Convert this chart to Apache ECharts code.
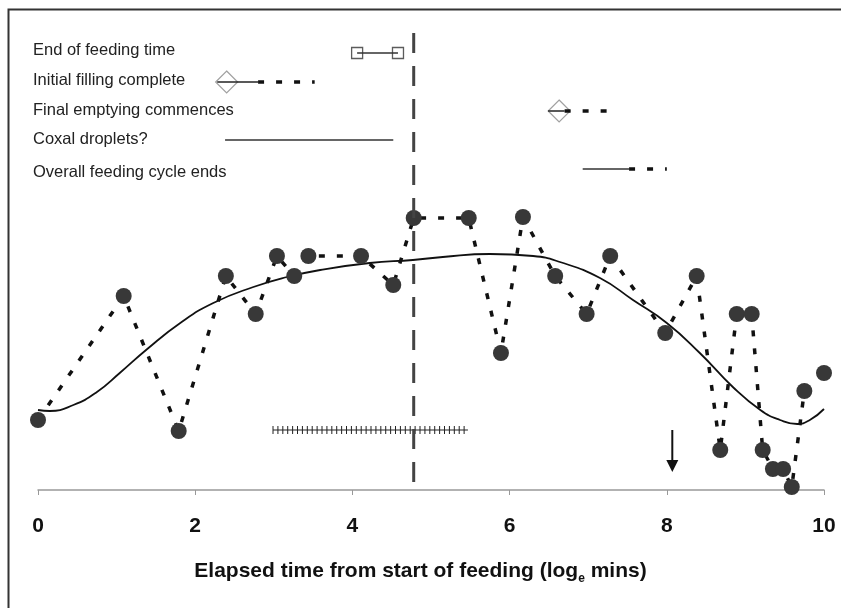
<!DOCTYPE html>
<html>
<head>
<meta charset="utf-8">
<script src="https://cdn.jsdelivr.net/npm/echarts@6/dist/echarts.min.js"></script>
<style>
html,body{margin:0;padding:0;background:#fff;}
#c{width:841px;height:608px;}
</style>
</head>
<body>
<div id="c"></div>
<script>
// ---- data ----
const obsX = [0.00, 1.09, 1.79, 2.39, 2.77, 3.04, 3.26, 3.44, 4.11, 4.52, 4.78, 5.48, 5.89, 6.17, 6.58, 6.98, 7.28, 7.98, 8.38, 8.68, 8.89, 9.08, 9.22, 9.35, 9.48, 9.59, 9.75, 10.00];
const obsY = [7.0, 19.4, 5.9, 21.4, 17.6, 23.4, 21.4, 23.4, 23.4, 20.5, 27.2, 27.2, 13.7, 27.3, 21.4, 17.6, 23.4, 15.7, 21.4, 4.0, 17.6, 17.6, 4.0, 2.1, 2.1, 0.3, 9.9, 11.7];

const trendX = [0.00, 0.15, 0.45, 0.75, 1.04, 1.39, 1.81, 2.23, 2.74, 3.17, 3.59, 4.22, 4.77, 5.15, 5.75, 6.30, 6.64, 7.15, 7.57, 8.00, 8.42, 8.84, 9.19, 9.44, 9.66, 9.82, 10.00];
const trendY = [8.0, 7.9, 8.5, 9.8, 11.7, 14.1, 16.7, 18.7, 20.3, 21.3, 22.0, 22.7, 23.0, 23.3, 23.6, 23.4, 22.8, 21.2, 19.0, 16.7, 13.7, 10.3, 8.0, 7.0, 6.6, 7.0, 8.1];

const feedEndLineX = 4.78;
const feedEndLineY = [45.7, 0];

const hatchRange = [2.99, 5.47];
const hatchY = 6.0;

const arrowX = 8.07;
const arrowY = [6.0, 1.8];

const rowLabels = ['End of feeding time', 'Initial filling complete', 'Final emptying commences', 'Coxal droplets?', 'Overall feeding cycle ends'];
const rowY = [43.7, 40.8, 37.9, 35.0, 32.1];

const endFeedingX = [4.06, 4.58];
const initialFillSolid = [2.28, 2.80];
const initialFillDash = [2.80, 3.52];
const initialFillMarker = 2.40;
const finalEmptySolid = [6.49, 6.70];
const finalEmptyDash = [6.70, 7.24];
const finalEmptyMarker = 6.63;
const coxalX = [2.38, 4.52];
const cycleEndSolid = [6.93, 7.52];
const cycleEndDash = [7.52, 8.00];

const xMin = 0, xMax = 10, xInterval = 2;
const axisTitle = 'Elapsed time from start of feeding (log';
const axisTitleSub = 'e';
const axisTitleEnd = ' mins)';

// ---- build ----
const pairs = (xs, ys) => xs.map((x, i) => [x, ys[i]]);
const seg = (xr, y) => [[xr[0], y], [xr[1], y]];

const chart = echarts.init(document.getElementById('c'));

const dashStyle = {color: '#111', width: 3.5, type: [6, 12], cap: 'butt'};

const option = {
  animation: false,
  backgroundColor: '#fff',
  grid: {left: 38, right: 17, top: 30, bottom: 118, containLabel: false},
  xAxis: {
    type: 'value', min: xMin, max: xMax, interval: xInterval,
    axisLine: {show: true, lineStyle: {color: '#999', width: 1.5}},
    axisTick: {show: true, inside: false, length: 5, lineStyle: {color: '#999'}},
    axisLabel: {fontFamily: 'Liberation Sans, Arial, sans-serif', fontWeight: 'bold', fontSize: 21, color: '#111', margin: 26},
    splitLine: {show: false}
  },
  yAxis: {
    type: 'value', min: 0, max: 46, show: false, splitLine: {show: false}
  },
  graphic: [
    {type: 'rect', shape: {x: 8.5, y: 9.5, width: 900, height: 700}, style: {fill: 'none', stroke: '#333', lineWidth: 2}, z: 0, silent: true},
    {type: 'text', left: 'center', x: 0, top: 561, z: 10, style: {
      text: '{a|' + axisTitle + '}{s|' + axisTitleSub + '}{a|' + axisTitleEnd + '}',
      rich: {
        a: {fontFamily: 'Liberation Sans, Arial, sans-serif', fontWeight: 'bold', fontSize: 21, fill: '#111'},
        s: {fontFamily: 'Liberation Sans, Arial, sans-serif', fontWeight: 'bold', fontSize: 12, fill: '#111', padding: [14, 0, 0, 0]}
      }
    }},
  ].concat(rowLabels.map((t, i) => ({
    type: 'text', x: 33, y: [50, 80, 110, 139, 172][i], z: 10,
    style: {text: t, fontFamily: 'Liberation Sans, Arial, sans-serif', fontSize: 16.5, fill: '#222', verticalAlign: 'middle'}
  }))),
  series: [
    // fitted trend
    {type: 'line', data: pairs(trendX, trendY), smooth: 0.5, symbol: 'none',
      lineStyle: {color: '#111', width: 1.8}, z: 3},
    // observations
    {type: 'line', data: pairs(obsX, obsY), symbol: 'circle', symbolSize: 16,
      itemStyle: {color: '#383838'}, lineStyle: dashStyle, z: 4},
    // end-of-feeding dashed vertical line
    {type: 'line', data: feedEndLineY.map(y => [feedEndLineX, y]), symbol: 'none',
      lineStyle: {color: '#444', width: 3, type: [20, 13]}, z: 5},
    // hatched bar
    {type: 'custom', data: [[hatchRange[0], hatchRange[1], hatchY]], z: 4,
      renderItem: function (params, api) {
        const p1 = api.coord([api.value(0), api.value(2)]);
        const p2 = api.coord([api.value(1), api.value(2)]);
        const ch = [{type: 'line', shape: {x1: p1[0], y1: p1[1], x2: p2[0], y2: p2[1]}, style: {stroke: '#222', lineWidth: 1.2}}];
        for (let x = p1[0]; x <= p2[0] + 0.1; x += 4.9) {
          ch.push({type: 'line', shape: {x1: x, y1: p1[1] - 4, x2: x, y2: p1[1] + 4}, style: {stroke: '#222', lineWidth: 1}});
        }
        return {type: 'group', children: ch};
      }},
    // arrow
    {type: 'custom', data: [[arrowX, arrowY[0], arrowY[1]]], z: 4,
      renderItem: function (params, api) {
        const a = api.coord([api.value(0), api.value(1)]);
        const b = api.coord([api.value(0), api.value(2)]);
        return {type: 'group', children: [
          {type: 'line', shape: {x1: a[0], y1: a[1], x2: b[0], y2: b[1] - 10}, style: {stroke: '#111', lineWidth: 2}},
          {type: 'polygon', shape: {points: [[b[0] - 6, b[1] - 12], [b[0] + 6, b[1] - 12], [b[0], b[1]]]}, style: {fill: '#111'}}
        ]};
      }},
    // row 1: End of feeding time
    {type: 'scatter', data: endFeedingX.map(x => [x, rowY[0]]), symbol: 'rect', symbolSize: 11,
      itemStyle: {color: '#fff', borderColor: '#333', borderWidth: 1.3}, z: 5},
    {type: 'line', data: endFeedingX.map(x => [x, rowY[0]]), symbol: 'none', lineStyle: {color: '#333', width: 1.3}, z: 6},
    // row 2: Initial filling complete
    {type: 'scatter', data: [[initialFillMarker, rowY[1]]], symbol: 'diamond', symbolSize: 22,
      itemStyle: {color: '#fff', borderColor: '#888', borderWidth: 1.2}, z: 5},
    {type: 'line', data: seg(initialFillSolid, rowY[1]), symbol: 'none', lineStyle: {color: '#222', width: 1.5}, z: 6},
    {type: 'line', data: seg(initialFillDash, rowY[1]), symbol: 'none', lineStyle: dashStyle, z: 6},
    // row 3: Final emptying commences
    {type: 'scatter', data: [[finalEmptyMarker, rowY[2]]], symbol: 'diamond', symbolSize: 22,
      itemStyle: {color: '#fff', borderColor: '#888', borderWidth: 1.2}, z: 5},
    {type: 'line', data: seg(finalEmptySolid, rowY[2]), symbol: 'none', lineStyle: {color: '#222', width: 1.5}, z: 6},
    {type: 'line', data: seg(finalEmptyDash, rowY[2]), symbol: 'none', lineStyle: dashStyle, z: 6},
    // row 4: Coxal droplets?
    {type: 'line', data: seg(coxalX, rowY[3]), symbol: 'none', lineStyle: {color: '#333', width: 1.5}, z: 6},
    // row 5: Overall feeding cycle ends
    {type: 'line', data: seg(cycleEndSolid, rowY[4]), symbol: 'none', lineStyle: {color: '#333', width: 1.5}, z: 6},
    {type: 'line', data: seg(cycleEndDash, rowY[4]), symbol: 'none', lineStyle: dashStyle, z: 6}
  ]
};
chart.setOption(option);
</script>
</body>
</html>
